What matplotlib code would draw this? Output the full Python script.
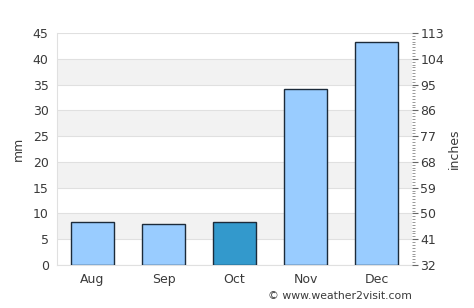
import numpy as np
import matplotlib.pyplot as plt
from matplotlib.ticker import MultipleLocator

months = ["Aug", "Sep", "Oct", "Nov", "Dec"]
rain_mm = [8.3, 8.0, 8.3, 34.2, 43.2]
bar_colors = ["#99ccff", "#99ccff", "#3399cc", "#99ccff", "#99ccff"]
right_ticks = [32, 41, 50, 59, 68, 77, 86, 95, 104, 113]

txt = "#3a3a3a"
fig = plt.figure(figsize=(4.74, 3.08), dpi=100)
ax = fig.add_axes([57 / 474, 1 - 265 / 308, 355 / 474, 232 / 308])

# alternating bands
for lo in range(5, 45, 10):
    ax.axhspan(lo, lo + 5, color="#f2f2f2", zorder=0, lw=0)
for y in range(0, 50, 5):
    ax.axhline(y, color="#e0e0e0", lw=0.8, zorder=1)

x = np.arange(len(months))
ax.bar(x, rain_mm, width=0.6, color=bar_colors, edgecolor="#1c2b3a", linewidth=1, zorder=3)

ax.set_xlim(-0.5, 4.5)
ax.set_ylim(0, 45)
ax.set_yticks(range(0, 50, 5))
ax.set_xticks(x)
ax.set_xticklabels(months)
ax.tick_params(axis="both", length=0, labelsize=9, colors=txt, pad=6)
ax.set_ylabel("mm", fontsize=9, color=txt, labelpad=6)
for s in ["top", "right"]:
    ax.spines[s].set_visible(False)
for s in ["left", "bottom"]:
    ax.spines[s].set_color("#e0e0e0")

ax2 = ax.twinx()
ax2.set_ylim(32, 113)
ax2.set_yticks(right_ticks)
ax2.yaxis.set_minor_locator(MultipleLocator(1))
ax2.tick_params(axis="y", which="major", length=4, width=0.8, color="#666666", labelsize=9, labelcolor=txt, pad=2)
ax2.tick_params(axis="y", which="minor", length=2, width=0.6, color="#888888")
ax2.set_ylabel("inches", fontsize=9, color=txt, labelpad=3)
for s in ax2.spines.values():
    s.set_visible(False)

fig.text(412 / 474, 1 - 296 / 308, "© www.weather2visit.com", ha="right", va="center", fontsize=7.8, color=txt)

fig.savefig("out.png", dpi=100)
